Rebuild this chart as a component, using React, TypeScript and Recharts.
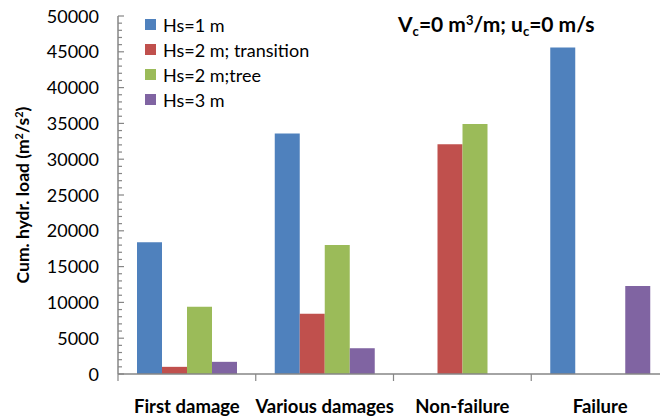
import { BarChart, Bar, XAxis, YAxis } from "recharts";

const categories = ["First damage", "Various damages", "Non-failure", "Failure"];
const seriesNames = ["Hs=1 m", "Hs=2 m; transition", "Hs=2 m;tree", "Hs=3 m"];
const seriesColors = ["#4F81BD", "#C0504D", "#9BBB59", "#8064A2"];
const hs1 = [18400, 33600, null, 45600];
const hs2Transition = [1000, 8400, 32100, null];
const hs2Tree = [9400, 18000, 34900, null];
const hs3 = [1700, 3600, null, 12300];
const majorTicks = [0, 5000, 10000, 15000, 20000, 25000, 30000, 35000, 40000, 45000, 50000];

const keys = ["hs1", "hs2t", "hs2tree", "hs3"];
const data = categories.map((name, i) => ({
  name,
  hs1: hs1[i],
  hs2t: hs2Transition[i],
  hs2tree: hs2Tree[i],
  hs3: hs3[i],
}));

// minor ticks every 1000 between the labelled ones
const allTicks = majorTicks.flatMap((t, i) =>
  i === majorTicks.length - 1 ? [t] : [t, t + 1000, t + 2000, t + 3000, t + 4000]
);

const FONT = "Lato, 'Open Sans', sans-serif";
const AXIS = "#868686";
const CHART_W = 672;
const CHART_H = 419;
const Y_W = 118;
const RIGHT = 3;
const CAT_W = (CHART_W - Y_W - RIGHT) / categories.length;

const YTick = (props: any) => {
  const { x, y, payload } = props;
  const major = payload.value % 5000 === 0;
  return (
    <g>
      <line x1={x} x2={x + (major ? 6 : 4)} y1={y} y2={y} stroke={AXIS} strokeWidth={1.2} />
      {major && (
        <text x={x - 19} y={y + 6.5} textAnchor="end" fontSize={18} fontFamily={FONT} fill="#000">
          {payload.value}
        </text>
      )}
    </g>
  );
};

const XTick = (props: any) => {
  const { x, y, payload } = props;
  const left = x - CAT_W / 2;
  return (
    <g>
      <line x1={left} x2={left} y1={y} y2={y + 7} stroke={AXIS} strokeWidth={1.2} />
      <text x={x} y={y + 39} textAnchor="middle" fontSize={18.5} fontWeight="bold" fontFamily={FONT} fill="#000">
        {payload.value}
      </text>
    </g>
  );
};

const YLabel = () => (
  <text
    transform="translate(29 195) rotate(-90)"
    textAnchor="middle"
    fontSize={17.5}
    fontWeight="bold"
    fontFamily={FONT}
    fill="#000"
  >
    Cum. hydr. load (m
    <tspan dy={-6} fontSize={11}>2</tspan>
    <tspan dy={6}>/s</tspan>
    <tspan dy={-6} fontSize={11}>2</tspan>
    <tspan dy={6}>)</tspan>
  </text>
);

export default function App() {
  return (
    <div
      style={{
        position: "absolute",
        left: 0,
        top: 0,
        width: 660,
        height: 419,
        overflow: "hidden",
        background: "#fff",
        fontFamily: FONT,
      }}
    >
      <BarChart
        width={CHART_W}
        height={CHART_H}
        data={data}
        margin={{ top: 16, right: RIGHT, bottom: 0, left: 0 }}
        barCategoryGap={19}
        barGap={0}
      >
        <XAxis
          dataKey="name"
          height={45}
          tick={<XTick />}
          tickLine={false}
          tickSize={0}
          tickMargin={0}
          axisLine={{ stroke: AXIS, strokeWidth: 1.5 }}
          interval={0}
        />
        <YAxis
          width={Y_W}
          domain={[0, 50000]}
          ticks={allTicks}
          interval={0}
          tick={<YTick />}
          tickLine={false}
          tickSize={0}
          tickMargin={0}
          axisLine={{ stroke: AXIS, strokeWidth: 1.5 }}
          label={<YLabel />}
        />
        {keys.map((k, i) => (
          <Bar key={k} dataKey={k} name={seriesNames[i]} fill={seriesColors[i]} isAnimationActive={false} />
        ))}
      </BarChart>

      <div style={{ position: "absolute", left: 145, top: 12, fontSize: 18, color: "#000" }}>
        {seriesNames.map((n, i) => (
          <div key={n} style={{ display: "flex", alignItems: "center", height: 25 }}>
            <span style={{ width: 11, height: 11, background: seriesColors[i], marginRight: 7 }} />
            <span>{n}</span>
          </div>
        ))}
      </div>

      <div
        style={{
          position: "absolute",
          left: 398,
          top: 12,
          fontSize: 21,
          fontWeight: "bold",
          lineHeight: "24px",
          whiteSpace: "nowrap",
          color: "#000",
        }}
      >
        V<span style={{ fontSize: 13, position: "relative", top: 4 }}>c</span>=0 m
        <span style={{ fontSize: 13, position: "relative", top: -7 }}>3</span>/m; u
        <span style={{ fontSize: 13, position: "relative", top: 4 }}>c</span>=0 m/s
      </div>
    </div>
  );
}
